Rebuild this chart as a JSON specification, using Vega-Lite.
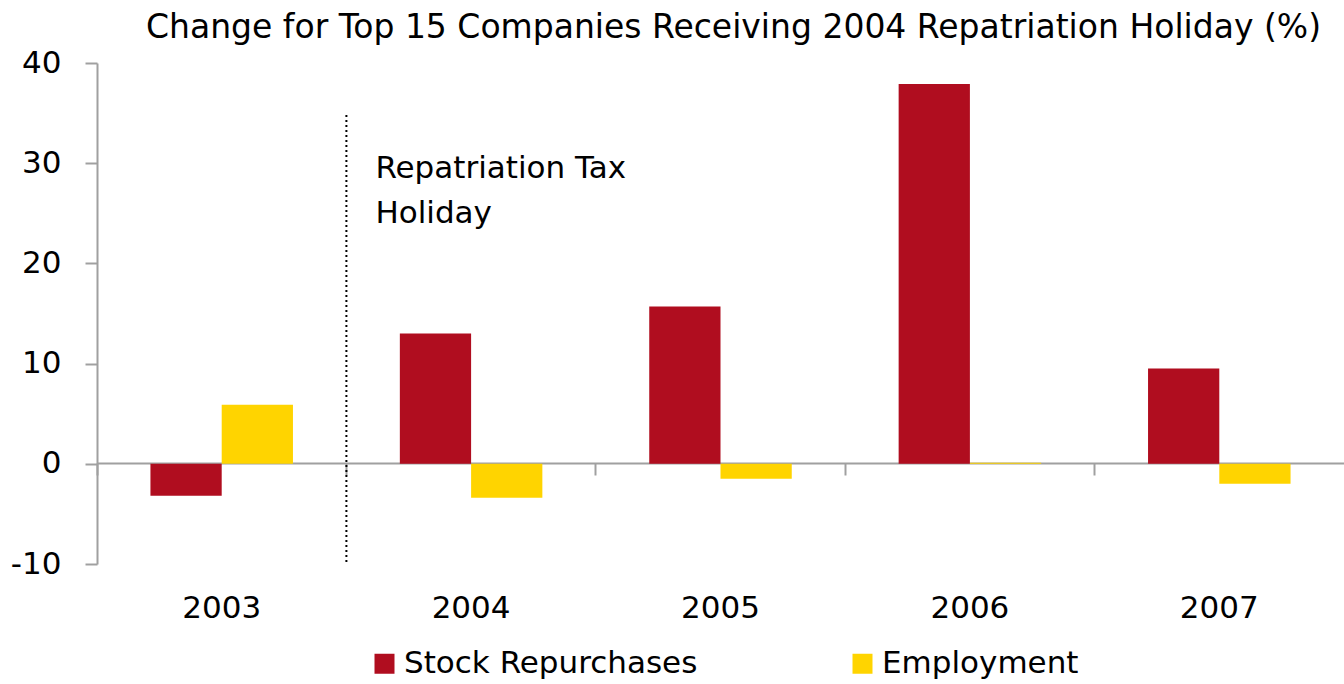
{
  "$schema": "https://vega.github.io/schema/vega-lite/v6.json",
  "autosize": {"type": "none"},
  "padding": {"left": 97, "top": 63, "right": 0, "bottom": 120},
  "width": 1247,
  "height": 501,
  "background": "white",
  "config": {
    "font": "DejaVu Sans",
    "view": {"stroke": null}
  },
  "title": {
    "text": "Change for Top 15 Companies Receiving 2004 Repatriation Holiday (%)",
    "font": "DejaVu Sans",
    "fontSize": 33,
    "fontWeight": "normal",
    "color": "black",
    "anchor": "middle",
    "frame": "group",
    "dx": 13,
    "offset": 2
  },
  "layer": [
    {
      "data": {
        "values": [
          {"year": "2003", "series": "Stock Repurchases", "value": -3.2},
          {"year": "2003", "series": "Employment", "value": 5.9},
          {"year": "2004", "series": "Stock Repurchases", "value": 13.0},
          {"year": "2004", "series": "Employment", "value": -3.4},
          {"year": "2005", "series": "Stock Repurchases", "value": 15.7},
          {"year": "2005", "series": "Employment", "value": -1.5},
          {"year": "2006", "series": "Stock Repurchases", "value": 37.9},
          {"year": "2006", "series": "Employment", "value": 0.1},
          {"year": "2007", "series": "Stock Repurchases", "value": 9.5},
          {"year": "2007", "series": "Employment", "value": -2.0}
        ]
      },
      "mark": {"type": "bar"},
      "encoding": {
        "x": {
          "field": "year", "type": "nominal",
          "scale": {"paddingInner": 0, "paddingOuter": 0},
          "axis": {
            "title": null,
            "bandPosition": 0,
            "offset": -101,
            "labelAngle": 0,
            "labelPadding": 118,
            "labelFontSize": 31,
            "labelColor": "black",
            "labelFont": "DejaVu Sans",
            "domainColor": "#a0a0a0",
            "domainWidth": 2,
            "tickColor": "#a0a0a0",
            "tickWidth": 2,
            "tickSize": 12
          }
        },
        "xOffset": {
          "field": "series", "type": "nominal",
          "sort": ["Stock Repurchases", "Employment"],
          "scale": {"paddingInner": 0, "paddingOuter": 0.75}
        },
        "y": {
          "field": "value", "type": "quantitative",
          "scale": {"domain": [-10, 40], "nice": false, "zero": false},
          "axis": {
            "title": null,
            "values": [-10, 0, 10, 20, 30, 40],
            "labelExpr": "'' + datum.value",
            "grid": false,
            "labelFontSize": 31,
            "labelColor": "black",
            "labelFont": "DejaVu Sans",
            "labelPadding": 24,
            "domainColor": "#a0a0a0",
            "domainWidth": 2,
            "tickColor": "#a0a0a0",
            "tickWidth": 2,
            "tickSize": 12
          }
        },
        "color": {
          "field": "series", "type": "nominal",
          "sort": ["Stock Repurchases", "Employment"],
          "scale": {"domain": ["Stock Repurchases", "Employment"], "range": ["#B00D1F", "#FFD400"]},
          "legend": {
            "title": null,
            "orient": "none",
            "direction": "horizontal",
            "legendX": 272,
            "legendY": 585,
            "padding": 0,
            "symbolType": "square",
            "symbolSize": 400,
            "symbolStrokeWidth": 0,
            "labelFontSize": 31,
            "labelLimit": 0,
            "labelColor": "black",
            "labelFont": "DejaVu Sans",
            "labelOffset": 4,
            "columnPadding": 149
          }
        }
      }
    },
    {
      "data": {"values": [{"year": "2004"}]},
      "mark": {"type": "rule", "color": "black", "strokeWidth": 2, "strokeDash": [2, 3]},
      "encoding": {
        "x": {"field": "year", "type": "nominal", "bandPosition": 0},
        "y": {"datum": 34.8},
        "y2": {"datum": -10}
      }
    },
    {
      "data": {"values": [{"year": "2004", "label": "Repatriation Tax\nHoliday"}]},
      "mark": {
        "type": "text", "align": "left", "baseline": "alphabetic",
        "lineBreak": "\n", "lineHeight": 45, "dx": 29,
        "fontSize": 31, "font": "DejaVu Sans", "color": "black"
      },
      "encoding": {
        "x": {"field": "year", "type": "nominal", "bandPosition": 0},
        "y": {"datum": 28.5},
        "text": {"field": "label"}
      }
    }
  ]
}
